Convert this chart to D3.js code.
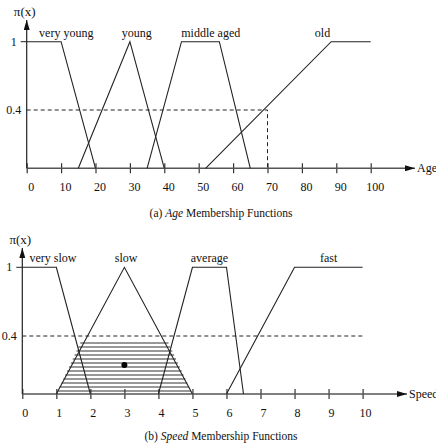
<!DOCTYPE html>
<html>
<head>
<meta charset="utf-8">
<script src="https://cdn.jsdelivr.net/npm/d3@7"></script>
<style>
  body { margin: 0; background: #fff; }
  svg text { font-family: "Liberation Serif", "DejaVu Serif", serif; fill: #111; }
</style>
</head>
<body>
<svg id="chart" width="436" height="448"></svg>
<script>
// ---- (a) Age ----
const ageTicks = [0, 10, 20, 30, 40, 50, 60, 70, 80, 90, 100];
const ageLabels = ["very young", "young", "middle aged", "old"];
const ageLabelAt = [11.5, 32, 53.5, 86];
const ageVeryYoung = [[0, 1], [10, 1], [20, 0]];
const ageYoung = [[15, 0], [30, 1], [40, 0]];
const ageMiddle = [[35, 0], [45, 1], [56, 1], [65, 0]];
const ageOld = [[52, 0], [88.5, 1], [100, 1]];
const ageCut = 0.4;
const ageQuery = 70;

// ---- (b) Speed ----
const speedTicks = [0, 1, 2, 3, 4, 5, 6, 7, 8, 9, 10];
const speedLabels = ["very slow", "slow", "average", "fast"];
const speedLabelAt = [0.9, 3.05, 5.5, 9.0];
const speedVerySlow = [[0, 1], [1, 1], [2, 0]];
const speedSlow = [[1, 0], [3, 1], [5, 0]];
const speedAverage = [[4, 0], [5, 1], [6, 1], [6.5, 0]];
const speedFast = [[6, 0], [8, 1], [10, 1]];
const speedCut = 0.4;
const speedCentroid = [3, 0.2];

const svg = d3.select("#chart");

svg.append("defs").append("marker")
  .attr("id", "arrow")
  .attr("viewBox", "0 0 10 6")
  .attr("refX", 10).attr("refY", 3)
  .attr("markerWidth", 10).attr("markerHeight", 6)
  .attr("markerUnits", "userSpaceOnUse")
  .attr("orient", "auto")
  .append("path").attr("d", "M0,0L10,3L0,6Z").attr("fill", "#111");

function drawPanel(p) {
  const g = svg.append("g");
  const x = d3.scaleLinear().domain(p.xDomain).range(p.xRange);
  // the figure is schematic: 0.4 sits a bit higher than a plain linear scale
  const y = d3.scaleLinear().domain([0, p.cut, 1]).range(p.yRange);
  const line = d3.line().x(d => x(d[0])).y(d => y(d[1]));

  // hatched area (drawn first so curves sit on top)
  if (p.hatch) {
    const tri = p.hatch;
    const yTop = y(p.cut) + 7, yBot = y(0) - 2;
    const rows = d3.range(yTop, yBot, 4);
    g.append("g").selectAll("line").data(rows).join("line")
      .attr("x1", py => {
        const v = y.invert(py);
        return x(tri[0][0] + (tri[1][0] - tri[0][0]) * v);
      })
      .attr("x2", py => {
        const v = y.invert(py);
        return x(tri[2][0] - (tri[2][0] - tri[1][0]) * v);
      })
      .attr("y1", py => py).attr("y2", py => py)
      .attr("stroke", "#333").attr("stroke-width", 1);
  }

  // x axis ticks
  const ax = g.append("g")
    .attr("transform", `translate(0,${y(0)})`)
    .call(d3.axisBottom(x).tickValues(p.ticks).tickSize(5).tickPadding(9));
  ax.select(".domain").remove();
  ax.selectAll(".tick line").attr("y1", -5).attr("stroke", "#333").attr("stroke-width", 1.2);
  ax.selectAll(".tick text")
    .attr("dx", p.labelShift)
    .attr("font-size", 12)
    .attr("font-family", "Liberation Serif")
    .attr("fill", "#111");

  // axis lines with arrows
  g.append("line")
    .attr("x1", x(0)).attr("x2", p.xArrow)
    .attr("y1", y(0)).attr("y2", y(0))
    .attr("stroke", "#555").attr("stroke-width", 1.6)
    .attr("marker-end", "url(#arrow)");
  g.append("line")
    .attr("x1", x(0)).attr("x2", x(0))
    .attr("y1", y(0)).attr("y2", p.yArrow)
    .attr("stroke", "#222").attr("stroke-width", 1.2)
    .attr("marker-end", "url(#arrow)");
  g.append("text")
    .attr("x", p.xArrow + 2).attr("y", y(0) + 4)
    .attr("font-size", 12).text(p.axisName);
  g.append("text")
    .attr("x", x(0) - 2).attr("y", p.yArrow - 4)
    .attr("text-anchor", "middle")
    .attr("font-size", 13).text("π(x)");

  // y ticks
  g.append("line")
    .attr("x1", x(0) - 6).attr("x2", x(0))
    .attr("y1", y(1)).attr("y2", y(1))
    .attr("stroke", "#222");
  g.selectAll(".ylab").data([1, p.cut]).join("text")
    .attr("class", "ylab")
    .attr("x", x(0) - 13).attr("y", d => y(d) + 4)
    .attr("text-anchor", "middle")
    .attr("font-size", 12)
    .text(d => d3.format("")(d));

  // cut level
  g.append("path")
    .attr("d", line(p.cutLine))
    .attr("fill", "none").attr("stroke", "#222")
    .attr("stroke-width", 1).attr("stroke-dasharray", "4,3");

  // membership functions
  g.selectAll(".mf").data(p.sets).join("path")
    .attr("class", "mf")
    .attr("d", line)
    .attr("fill", "none").attr("stroke", "#222").attr("stroke-width", 1.1);

  g.selectAll(".mfl").data(p.names).join("text")
    .attr("class", "mfl")
    .attr("x", (d, i) => x(p.labelAt[i]))
    .attr("y", y(1) - 5)
    .attr("text-anchor", "middle")
    .attr("font-size", 12)
    .text(d => d);

  if (p.dot) {
    g.append("circle")
      .attr("cx", x(p.dot[0])).attr("cy", y(p.dot[1]))
      .attr("r", 3).attr("fill", "#000");
  }

  const cap = g.append("text")
    .attr("x", 221).attr("y", p.captionY)
    .attr("text-anchor", "middle")
    .attr("font-size", 11.5);
  cap.append("tspan").text(p.captionTag + " ");
  cap.append("tspan").attr("font-style", "italic").text(p.axisName);
  cap.append("tspan").text(" Membership Functions");
}

drawPanel({
  xDomain: [0, 100], xRange: [26.7, 370.7],
  cut: ageCut, yRange: [168.3, 110, 41.7],
  ticks: ageTicks, labelShift: 4,
  xArrow: 415, yArrow: 20, axisName: "Age",
  sets: [ageVeryYoung, ageYoung, ageMiddle, ageOld],
  names: ageLabels, labelAt: ageLabelAt,
  cutLine: [[0, ageCut], [ageQuery, ageCut], [ageQuery, 0]],
  captionTag: "(a)", captionY: 217
});

drawPanel({
  xDomain: [0, 10], xRange: [22.3, 362.6],
  cut: speedCut, yRange: [394, 336, 267.3],
  ticks: speedTicks, labelShift: 2.5,
  xArrow: 407, yArrow: 248, axisName: "Speed",
  sets: [speedVerySlow, speedSlow, speedAverage, speedFast],
  names: speedLabels, labelAt: speedLabelAt,
  cutLine: [[0, speedCut], [10, speedCut]],
  hatch: speedSlow, dot: speedCentroid,
  captionTag: "(b)", captionY: 440
});
</script>
</body>
</html>
